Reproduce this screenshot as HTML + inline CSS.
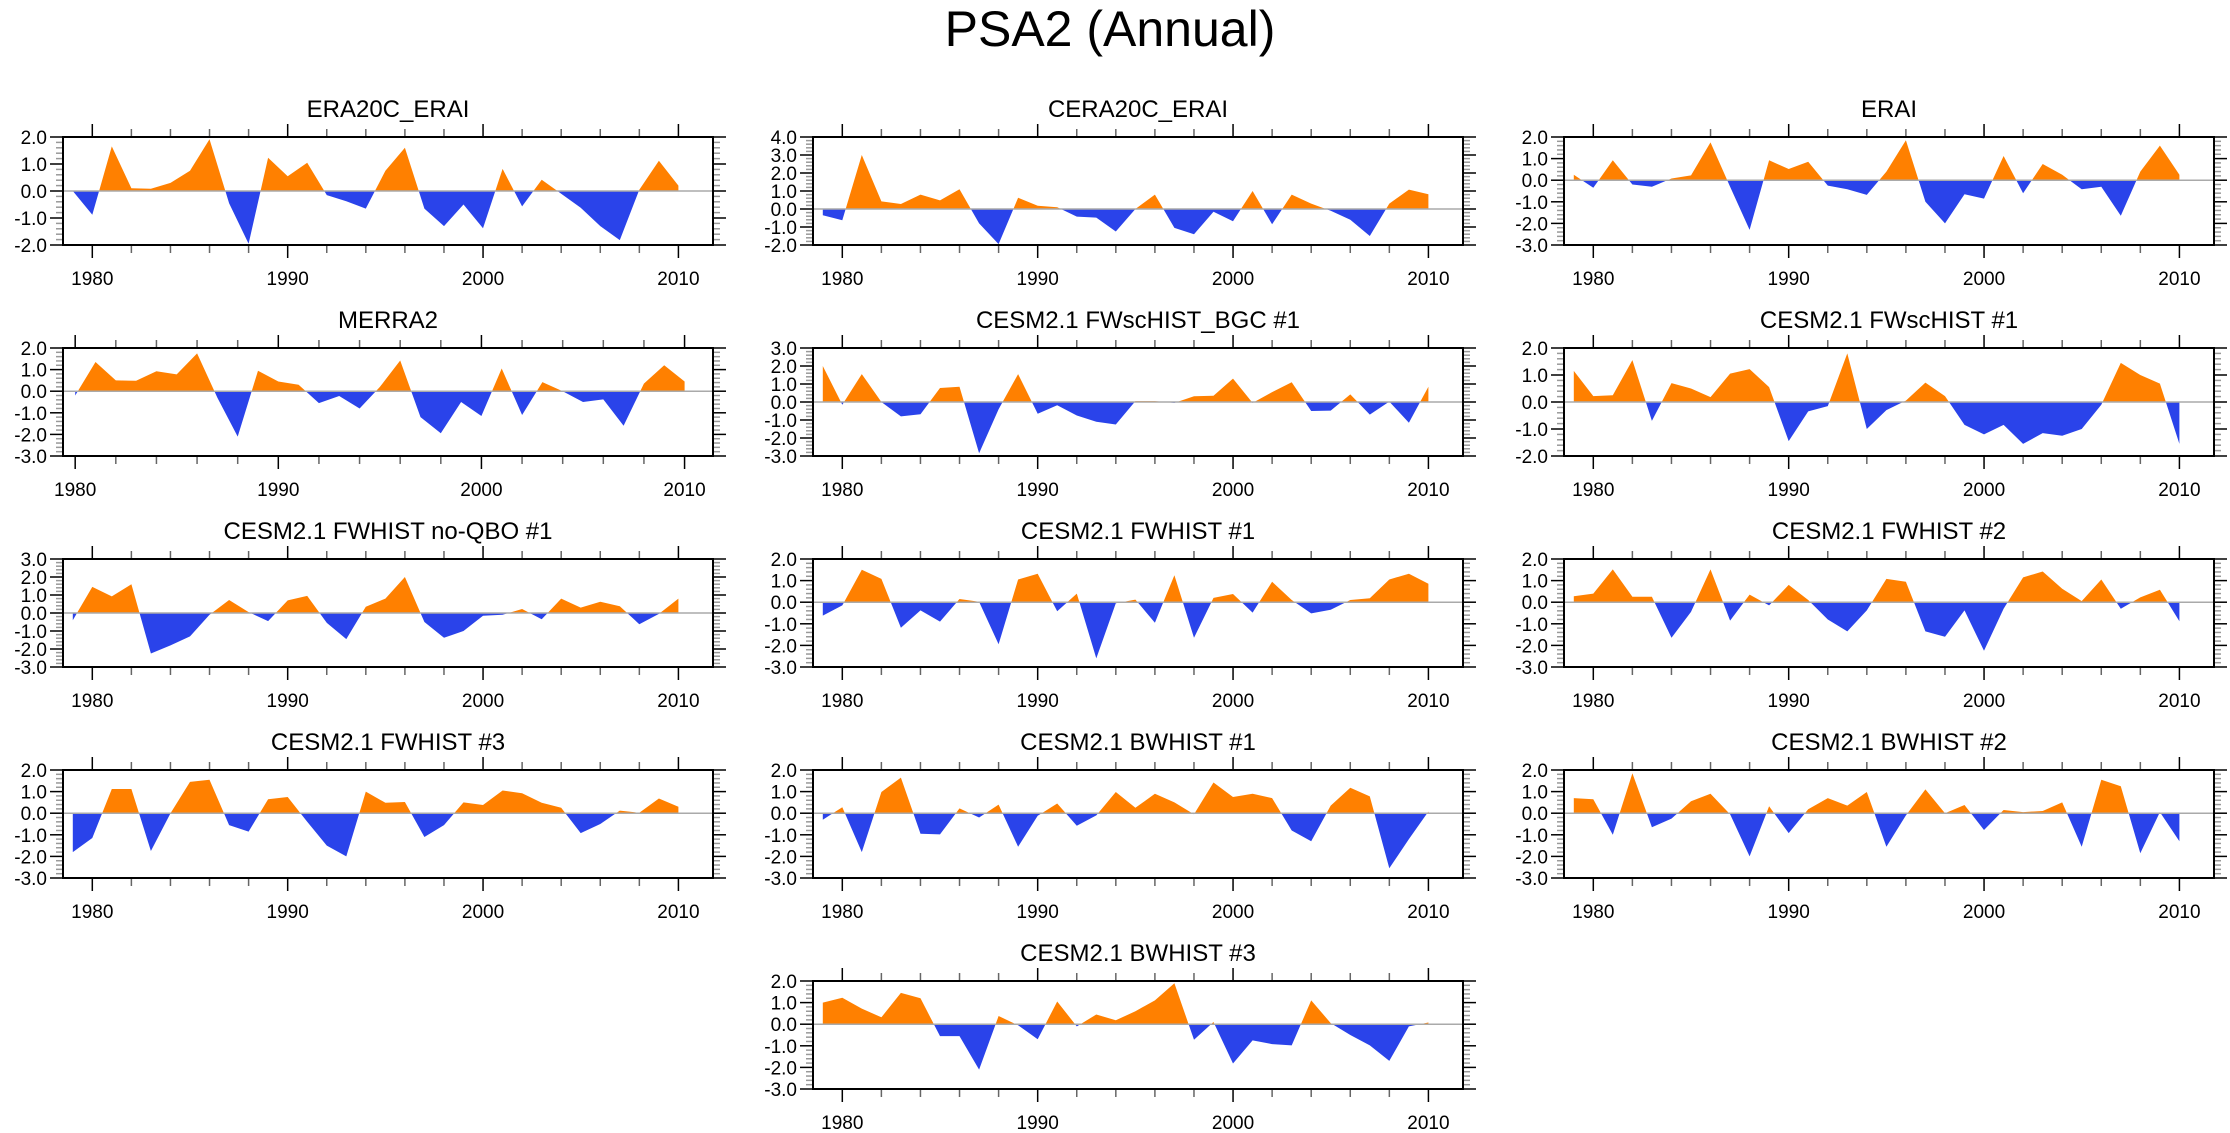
<!DOCTYPE html>
<html><head><meta charset="utf-8"><style>
html,body{margin:0;padding:0;background:#fff;}
svg{display:block;font-family:"Liberation Sans",sans-serif;}
</style></head><body>
<svg id="fig" width="2230" height="1133" viewBox="0 0 2230 1133" xmlns="http://www.w3.org/2000/svg">
<text x="1110" y="46" font-size="50" text-anchor="middle">PSA2 (Annual)</text>
</svg>
<script>
const titles = ["ERA20C_ERAI","CERA20C_ERAI","ERAI","MERRA2","CESM2.1 FWscHIST_BGC #1","CESM2.1 FWscHIST #1","CESM2.1 FWHIST no-QBO #1","CESM2.1 FWHIST #1","CESM2.1 FWHIST #2","CESM2.1 FWHIST #3","CESM2.1 BWHIST #1","CESM2.1 BWHIST #2","CESM2.1 BWHIST #3"];
const startYears = [1979,1979,1979,1980,1979,1979,1979,1979,1979,1979,1979,1979,1979];
const yMax = [2,4,2,2,3,2,3,2,2,2,2,2,2];
const yMin = [-2,-2,-3,-3,-3,-2,-3,-3,-3,-3,-3,-3,-3];
const xTickLabels = [1980,1990,2000,2010];
const s0 = [0.0,-0.88,1.65,0.1,0.08,0.3,0.75,1.92,-0.45,-1.95,1.23,0.55,1.05,-0.15,-0.38,-0.65,0.75,1.6,-0.65,-1.3,-0.5,-1.38,0.82,-0.57,0.42,-0.1,-0.62,-1.3,-1.82,0.05,1.12,0.2];
const s1 = [-0.35,-0.62,3.0,0.42,0.28,0.8,0.48,1.1,-0.8,-1.95,0.62,0.18,0.1,-0.42,-0.48,-1.25,0.0,0.8,-1.05,-1.4,-0.15,-0.68,1.0,-0.85,0.8,0.3,-0.1,-0.6,-1.5,0.3,1.08,0.82];
const s2 = [0.25,-0.35,0.92,-0.2,-0.3,0.08,0.22,1.75,-0.3,-2.3,0.92,0.52,0.85,-0.25,-0.42,-0.68,0.4,1.85,-1.0,-2.0,-0.65,-0.85,1.12,-0.6,0.75,0.25,-0.42,-0.3,-1.65,0.4,1.6,0.25];
const s3 = [-0.2,1.35,0.5,0.48,0.92,0.78,1.75,-0.3,-2.1,0.95,0.45,0.3,-0.55,-0.22,-0.8,0.2,1.42,-1.2,-1.95,-0.5,-1.15,1.05,-1.1,0.42,0.0,-0.5,-0.38,-1.6,0.35,1.2,0.45];
const s4 = [2.0,-0.15,1.55,0.0,-0.8,-0.68,0.78,0.85,-2.85,-0.4,1.55,-0.65,-0.18,-0.75,-1.1,-1.25,0.05,0.05,-0.05,0.32,0.35,1.3,-0.05,0.55,1.1,-0.5,-0.48,0.42,-0.7,0.02,-1.15,0.85];
const s5 = [1.15,0.22,0.25,1.55,-0.7,0.7,0.5,0.18,1.05,1.22,0.55,-1.45,-0.35,-0.15,1.8,-1.0,-0.3,0.05,0.72,0.22,-0.85,-1.2,-0.85,-1.55,-1.15,-1.25,-1.0,-0.1,1.45,1.0,0.68,-1.55];
const s6 = [-0.4,1.45,0.92,1.6,-2.25,-1.8,-1.3,-0.1,0.72,0.05,-0.45,0.7,0.95,-0.55,-1.45,0.35,0.8,2.0,-0.5,-1.38,-1.0,-0.15,-0.1,0.22,-0.35,0.8,0.3,0.62,0.38,-0.62,-0.05,0.8];
const s7 = [-0.62,-0.15,1.5,1.08,-1.18,-0.38,-0.9,0.15,0.02,-1.95,1.05,1.32,-0.42,0.4,-2.6,-0.05,0.12,-0.95,1.25,-1.65,0.2,0.38,-0.48,0.95,0.1,-0.52,-0.35,0.1,0.18,1.05,1.32,0.85];
const s8 = [0.28,0.4,1.52,0.25,0.25,-1.65,-0.45,1.52,-0.85,0.35,-0.15,0.8,0.1,-0.8,-1.35,-0.38,1.08,0.95,-1.35,-1.6,-0.38,-2.25,-0.3,1.15,1.42,0.62,0.05,1.05,-0.3,0.22,0.58,-0.88];
const s9 = [-1.8,-1.15,1.12,1.12,-1.75,0.0,1.45,1.55,-0.55,-0.85,0.65,0.75,-0.4,-1.5,-2.0,1.0,0.48,0.52,-1.1,-0.55,0.5,0.38,1.05,0.92,0.48,0.25,-0.92,-0.5,0.12,0.02,0.68,0.3];
const s10 = [-0.3,0.28,-1.8,0.98,1.65,-0.95,-0.98,0.22,-0.2,0.4,-1.55,-0.12,0.45,-0.58,-0.1,0.98,0.25,0.9,0.5,-0.05,1.42,0.75,0.9,0.7,-0.8,-1.3,0.35,1.18,0.78,-2.55,-1.2,0.08];
const s11 = [0.7,0.65,-1.0,1.85,-0.65,-0.25,0.55,0.9,-0.05,-2.0,0.32,-0.92,0.18,0.7,0.35,0.98,-1.55,-0.1,1.1,0.0,0.38,-0.78,0.15,0.05,0.1,0.5,-1.55,1.55,1.25,-1.85,0.05,-1.3];
const s12 = [1.0,1.22,0.72,0.32,1.45,1.2,-0.55,-0.55,-2.1,0.38,-0.05,-0.7,1.05,-0.1,0.45,0.18,0.6,1.1,1.9,-0.72,0.1,-1.82,-0.75,-0.92,-0.98,1.1,0.05,-0.5,-0.98,-1.7,-0.1,0.08];
const series = [s0,s1,s2,s3,s4,s5,s6,s7,s8,s9,s10,s11,s12];

const NS = "http://www.w3.org/2000/svg";
const svg = document.getElementById('fig');
const colLeft = [63, 813, 1564];
const rowTop = [137, 348, 559, 770, 981];
const W = 650, H = 108;
function mk(tag, attrs, parent) {
  const e = document.createElementNS(NS, tag);
  for (const k in attrs) e.setAttribute(k, attrs[k]);
  parent.appendChild(e);
  return e;
}
for (let p = 0; p < series.length; p++) {
  const col = p < 12 ? p % 3 : 1;
  const row = p < 12 ? Math.floor(p / 3) : 4;
  const L = colLeft[col], T = rowTop[row];
  const vals = series[p];
  const y0yr = startYears[p];
  const xmin = y0yr === 1980 ? 1979.4 : 1978.5;
  const xmax = y0yr === 1980 ? 2011.4 : 2011.77;
  const xs = yr => L + (yr - xmin) / (xmax - xmin) * W;
  const ys = v => T + (yMax[p] - v) / (yMax[p] - yMin[p]) * H;
  const g = mk('g', {}, svg);
  
  
  const t = mk('text', {x: L + W / 2, y: T - 20, 'font-size': 24, 'text-anchor': 'middle'}, g);
  
  
  t.textContent = titles[p];
  // clip paths
  const cid = 'c' + p;
  const defs = mk('defs', {}, g);
  const cpU = mk('clipPath', {id: cid + 'u'}, defs);
  mk('rect', {x: L, y: T, width: W, height: ys(0) - T}, cpU);
  const cpD = mk('clipPath', {id: cid + 'd'}, defs);
  mk('rect', {x: L, y: ys(0), width: W, height: T + H - ys(0)}, cpD);
  let pts = xs(y0yr).toFixed(1) + ',' + ys(0).toFixed(1) + ' ';
  vals.forEach((v, i) => { pts += xs(y0yr + i).toFixed(1) + ',' + ys(v).toFixed(1) + ' '; });
  pts += xs(y0yr + vals.length - 1).toFixed(1) + ',' + ys(0).toFixed(1);
  const pu = mk('polygon', {points: pts, fill: '#ff8000', 'clip-path': 'url(#' + cid + 'u)'}, g);
  
  
  const pd = mk('polygon', {points: pts, fill: '#2a43ea', 'clip-path': 'url(#' + cid + 'd)'}, g);
  
  
  const zl = mk('line', {x1: L, x2: L + W, y1: ys(0), y2: ys(0), stroke: '#aaa', 'stroke-width': 1.5}, g);
  
  
  // y ticks
  for (let k = Math.round(yMin[p] * 5); k <= Math.round(yMax[p] * 5); k++) {
    const v = k / 5, y = ys(v);
    const major = k % 5 === 0;
    const len = major ? 13 : 7;
    const st = major ? '#000' : '#999';
    mk('line', {x1: L - len, x2: L, y1: y, y2: y, stroke: st, 'stroke-width': 1.5}, g);
    mk('line', {x1: L + W, x2: L + W + len, y1: y, y2: y, stroke: st, 'stroke-width': 1.5}, g);
    if (major) {
      const yl = mk('text', {x: L - 16, y: y + 7, 'font-size': 19, 'text-anchor': 'end'}, g);
      
      
      yl.textContent = v.toFixed(1);
    }
  }
  // x ticks
  for (let yr = 1980; yr <= 2010; yr += 2) {
    const x = xs(yr);
    const major = yr % 10 === 0;
    const len = major ? 13 : 8;
    const st = major ? '#000' : '#666';
    mk('line', {x1: x, x2: x, y1: T - len, y2: T, stroke: st, 'stroke-width': 1.5}, g);
    mk('line', {x1: x, x2: x, y1: T + H, y2: T + H + len, stroke: st, 'stroke-width': 1.5}, g);
  }
  xTickLabels.forEach(yr => {
    const xl = mk('text', {x: xs(yr), y: T + H + 40, 'font-size': 19, 'text-anchor': 'middle'}, g);
    
    
    xl.textContent = yr;
  });
  const fr = mk('rect', {x: L, y: T, width: W, height: H, fill: 'none', stroke: '#000', 'stroke-width': 2}, g);
  
  
}
</script>
</body></html>
